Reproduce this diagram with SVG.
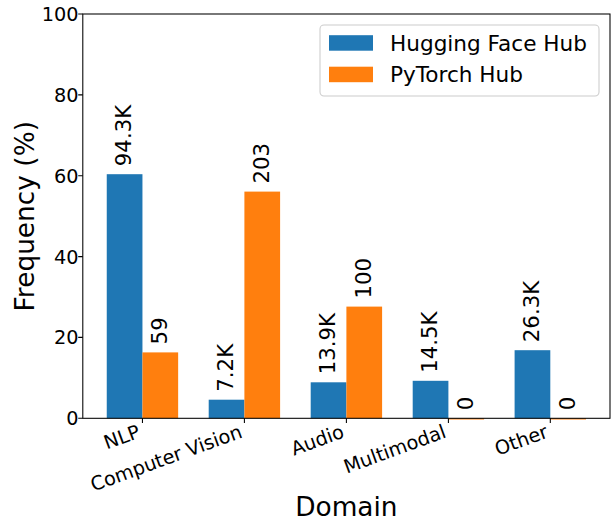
<svg xmlns="http://www.w3.org/2000/svg" width="613" height="523" viewBox="0 0 613 523">
<style>
text{font-family:"DejaVu Sans","Liberation Sans",sans-serif;fill:#000}
.tick{font-size:19.3px}
.ytl{text-anchor:end}
.xtl{text-anchor:end}
.val{font-size:21.3px}
.axl{font-size:26.4px;text-anchor:middle}
.leg{font-size:21.6px}
.hf{fill:#1f77b4}
.pt{fill:#ff7f0e}
.tk{stroke:#000;stroke-width:1.06}
</style>
<rect width="613" height="523" fill="#fff"/>
<g id="bars-hf">
<rect class="hf" x="106.75" y="174.2" width="35.7" height="244.1"/>
<rect class="hf" x="208.7" y="399.7" width="35.7" height="18.6"/>
<rect class="hf" x="310.7" y="382.3" width="35.7" height="36.0"/>
<rect class="hf" x="412.7" y="380.8" width="35.7" height="37.5"/>
<rect class="hf" x="514.6" y="350.2" width="35.7" height="68.1"/>
</g>
<g id="bars-pt">
<rect class="pt" x="142.45" y="352.4" width="35.7" height="65.9"/>
<rect class="pt" x="244.4" y="191.6" width="35.7" height="226.7"/>
<rect class="pt" x="346.4" y="306.6" width="35.7" height="111.7"/>
<rect class="pt" x="448.4" y="418.3" width="35.7" height="1.2"/>
<rect class="pt" x="550.3" y="418.3" width="35.7" height="1.2"/>
</g>
<g id="axes" fill="none">
<rect x="82.8" y="14" width="527.2" height="404.3" stroke="#000" stroke-width="1.06"/>
<path class="tk" d="M82.8 418.3h-4.6M82.8 337.4h-4.6M82.8 256.6h-4.6M82.8 175.7h-4.6M82.8 94.9h-4.6M82.8 14h-4.6"/>
<path class="tk" d="M142.45 418.3v4.6M244.4 418.3v4.6M346.4 418.3v4.6M448.4 418.3v4.6M550.3 418.3v4.6"/>
</g>
<g id="y-ticks" class="tick ytl">
<text x="78.5" y="425.3">0</text>
<text x="78.5" y="344.4">20</text>
<text x="78.5" y="263.6">40</text>
<text x="78.5" y="182.7">60</text>
<text x="78.5" y="101.9">80</text>
<text x="78.5" y="21">100</text>
</g>
<g id="x-ticks" class="tick xtl">
<text transform="translate(141.45,437) rotate(-20)">NLP</text>
<text transform="translate(243.4,437) rotate(-20)">Computer Vision</text>
<text transform="translate(345.4,437) rotate(-20)">Audio</text>
<text transform="translate(447.4,437) rotate(-20)">Multimodal</text>
<text transform="translate(549.3,437) rotate(-20)">Other</text>
</g>
<g id="value-labels" class="val">
<text transform="translate(131.1,166.2) rotate(-90)">94.3K</text>
<text transform="translate(233.05,391.7) rotate(-90)">7.2K</text>
<text transform="translate(335.05,374.3) rotate(-90)">13.9K</text>
<text transform="translate(437.05,372.8) rotate(-90)">14.5K</text>
<text transform="translate(538.95,342.2) rotate(-90)">26.3K</text>
<text transform="translate(166.8,344.4) rotate(-90)">59</text>
<text transform="translate(268.75,183.6) rotate(-90)">203</text>
<text transform="translate(370.75,298.6) rotate(-90)">100</text>
<text transform="translate(472.75,410.3) rotate(-90)">0</text>
<text transform="translate(574.65,410.3) rotate(-90)">0</text>
</g>
<g id="axis-labels" class="axl">
<text transform="translate(34,216.2) rotate(-90)">Frequency (%)</text>
<text x="346.4" y="515.5">Domain</text>
</g>
<g id="legend">
<rect x="320" y="25" width="279" height="71" rx="4" fill="#fff" fill-opacity="0.8" stroke="#cccccc" stroke-width="1.06"/>
<rect class="hf" x="329" y="35.2" width="44" height="15.5"/>
<rect class="pt" x="329" y="66.7" width="44" height="15.5"/>
<text class="leg" x="390" y="51">Hugging Face Hub</text>
<text class="leg" x="390" y="82.3">PyTorch Hub</text>
</g>
</svg>
